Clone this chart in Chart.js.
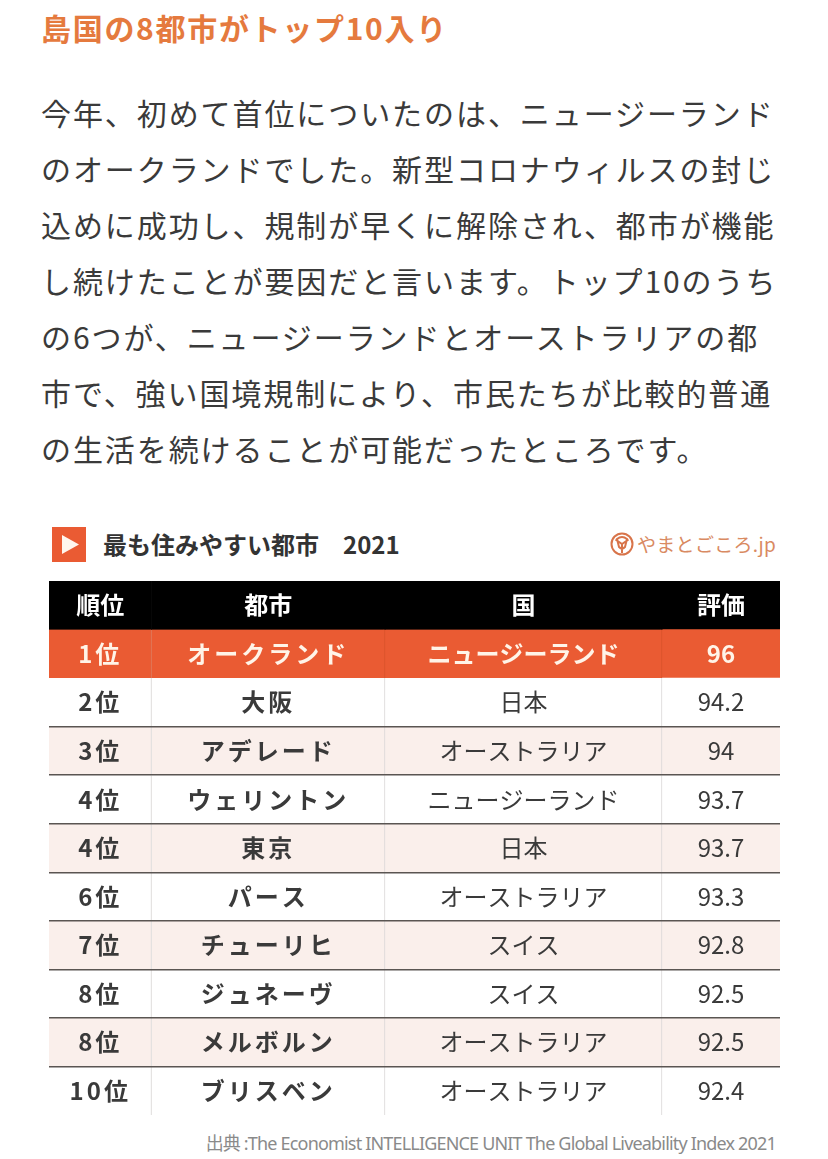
<!DOCTYPE html>
<html lang="ja">
<head>
<meta charset="utf-8">
<title>最も住みやすい都市 2021</title>
<script src="https://cdn.jsdelivr.net/npm/chart.js@4"></script>
<style>
html, body { margin: 0; padding: 0; background: #fff; }
body { position: relative; width: 828px; height: 1159px; overflow: hidden; font-family: "Noto Sans CJK JP", sans-serif; }
.abs { position: absolute; white-space: nowrap; }
#heading { left: 41px; top: 5.5px; font-size: 30px; line-height: 42px; font-weight: 700; color: #e57a3e; letter-spacing: 1.7px; }
#body { left: 41px; top: 83.5px; font-size: 30px; line-height: 56.1px; color: #3a3a3a; letter-spacing: 1.92px; }
#marker { left: 52px; top: 527px; width: 34px; height: 35px; }
#subtitle { left: 103px; top: 526px; font-size: 24px; line-height: 36px; font-weight: 700; color: #333; }
#logoIcon { left: 610px; top: 532px; width: 24px; height: 24px; }
#logo { left: 637px; top: 530px; font-size: 19px; line-height: 28px; color: #d98a62; letter-spacing: 0.3px; }
#source { right: 52px; top: 1130px; font-family: "Noto Sans", "Noto Sans CJK JP", sans-serif; font-size: 18px; line-height: 26px; color: #8a8a8a; letter-spacing: -0.82px; }
#tableWrap { left: 49px; top: 580.5px; width: 731px; height: 534px; }
</style>
</head>
<body>
<div id="heading" class="abs">島国の8都市がトップ10入り</div>
<div id="body" class="abs">今年、初めて首位についたのは、ニュージーランド<br>のオークランドでした。新型コロナウィルスの封じ<br>込めに成功し、規制が早くに解除され、都市が機能<br>し続けたことが要因だと言います。トップ10のうち<br>の6つが、ニュージーランドとオーストラリアの都<br>市で、強い国境規制により、市民たちが比較的普通<br>の生活を続けることが可能だったところです。</div>

<svg id="marker" class="abs" viewBox="0 0 34 35"><rect width="34" height="35" fill="#ea5b33"/><path d="M10 8 L27 17.5 L10 27 Z" fill="#fff6ee"/></svg>
<div id="subtitle" class="abs">最も住みやすい都市　2021</div>
<svg id="logoIcon" class="abs" viewBox="0 0 24 24" fill="none" stroke="#d8744a" stroke-width="2"><circle cx="12" cy="12" r="10.5"/><path d="M5.5 7.5 L12 12 L18.5 7.5 M12 12 L12 21 M7 7 Q12 3 17 7 L15 15 Q12 18 9 15 Z"/></svg>
<div id="logo" class="abs">やまとごころ.jp</div>

<div id="tableWrap" class="abs"><canvas id="myChart" width="731" height="534"></canvas></div>
<div id="source" class="abs">出典 :The Economist INTELLIGENCE UNIT The Global Liveability Index 2021</div>

<script>
var headers = ['順位', '都市', '国', '評価'];
var ranks = ['1位', '2位', '3位', '4位', '4位', '6位', '7位', '8位', '8位', '10位'];
var cities = ['オークランド', '大阪', 'アデレード', 'ウェリントン', '東京', 'パース', 'チューリヒ', 'ジュネーヴ', 'メルボルン', 'ブリスベン'];
var countries = ['ニュージーランド', '日本', 'オーストラリア', 'ニュージーランド', '日本', 'オーストラリア', 'スイス', 'スイス', 'オーストラリア', 'オーストラリア'];
var scores = ['96', '94.2', '94', '93.7', '93.7', '93.3', '92.8', '92.5', '92.5', '92.4'];

// table layout, each column is one stacked bar series
var columnWidths = [102.5, 233.5, 277, 118];
var columns = [ranks, cities, countries, scores];
var pinkRows = [2, 4, 6, 8];
var font = '"Noto Sans CJK JP", sans-serif';

function rowColor(row) {
	if (row === 0) return '#000000';
	if (row === 1) return '#ea5b33';
	return pinkRows.indexOf(row - 1) >= 0 ? '#faefeb' : '#ffffff';
}

var rowLabels = ['header'].concat(ranks);
var datasets = [];
for (var c = 0; c < columns.length; c++) {
	datasets.push({
		label: headers[c],
		data: rowLabels.map(function() { return columnWidths[c]; }),
		backgroundColor: function(ctx) { return rowColor(ctx.dataIndex); },
		borderColor: function(ctx) { return ctx.dataIndex === 1 ? '#d8522c' : '#d9d6d5'; },
		borderWidth: function(ctx) {
			var noLine = ctx.dataIndex === 0 || ctx.datasetIndex === columns.length - 1;
			return { top: 0, left: 0, bottom: 0, right: noLine ? 0 : 1 };
		},
		borderSkipped: false
	});
}

// writes the cell text at the centre of each bar
var cellText = {
	id: 'cellText',
	afterDatasetsDraw: function(chart) {
		var ctx = chart.ctx;
		ctx.save();
		ctx.textAlign = 'center';
		ctx.textBaseline = 'middle';
		for (var c = 0; c < columns.length; c++) {
			var bars = chart.getDatasetMeta(c).data;
			for (var r = 0; r < bars.length; r++) {
				var center = bars[r].getCenterPoint();
				var text = r === 0 ? headers[c] : columns[c][r - 1];
				var bold = r <= 1 || c < 2;
				ctx.font = (bold ? '700 ' : '400 ') + '24px ' + font;
				ctx.letterSpacing = (c < 2 && r > 0) ? '3px' : '0px';
				ctx.fillStyle = r === 0 ? '#ffffff' : (r === 1 ? '#fff4e8' : '#3a3a3a');
				ctx.fillText(text, center.x, center.y);
			}
		}
		ctx.restore();
	}
};

var chart = new Chart(document.getElementById('myChart'), {
	type: 'bar',
	data: { labels: rowLabels, datasets: datasets },
	plugins: [cellText],
	options: {
		indexAxis: 'y',
		responsive: false,
		animation: false,
		barPercentage: 1,
		categoryPercentage: 1,
		layout: { padding: 0 },
		plugins: { legend: { display: false }, tooltip: { enabled: false } },
		scales: {
			x: { stacked: true, display: false, min: 0, max: 731 },
			y: {
				stacked: true,
				ticks: { display: false },
				border: { display: false },
				grid: {
					z: 1,
					drawTicks: false,
					lineWidth: 1.5,
					color: function(ctx) {
						return ctx.index >= 3 && ctx.index <= 10 ? '#5a5552' : 'rgba(0,0,0,0)';
					}
				}
			}
		}
	}
});
</script>
</body>
</html>
